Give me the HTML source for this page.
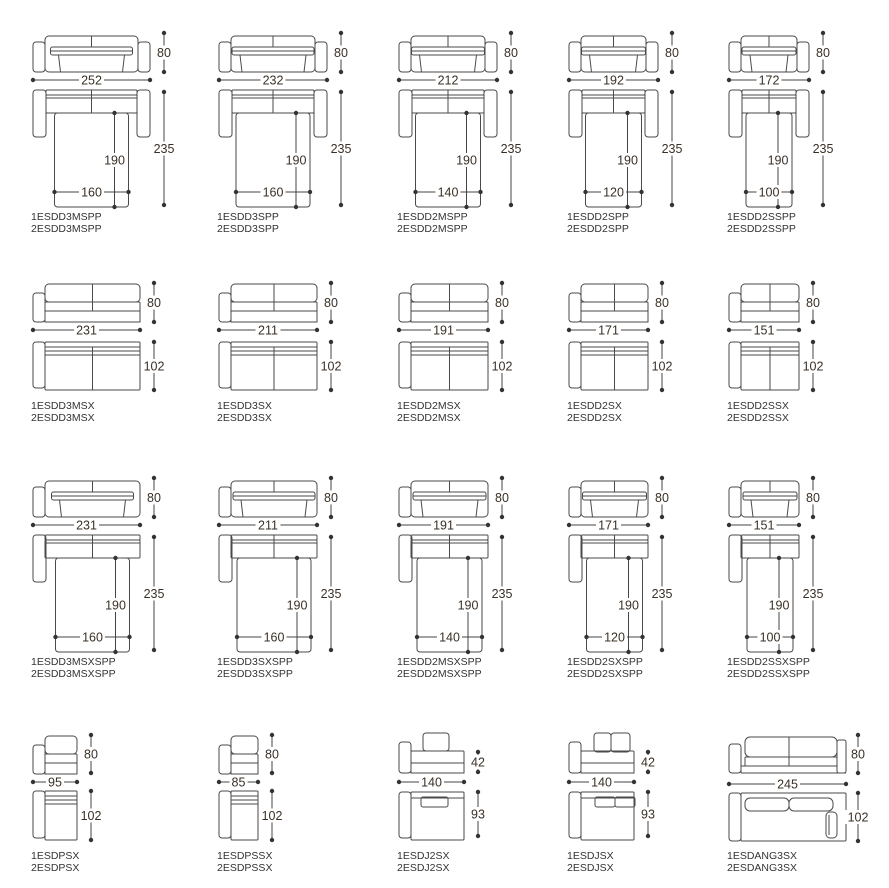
<!DOCTYPE html><html><head><meta charset="utf-8"><style>
body{margin:0;background:#fff}
svg{display:block}
text{font-family:"Liberation Sans",sans-serif}
</style></head><body>
<svg id="s" width="889" height="888" viewBox="0 0 889 888" xmlns="http://www.w3.org/2000/svg"></svg>
<script>
var o='';var S='#4a4a4a';
function R(x,y,w,h,r){o+='<rect x="'+x+'" y="'+y+'" width="'+w+'" height="'+h+'" rx="'+(r||0)+'" fill="none" stroke="'+S+'" stroke-width="1"/>';}
function L(x1,y1,x2,y2,c,sw){o+='<line x1="'+x1+'" y1="'+y1+'" x2="'+x2+'" y2="'+y2+'" stroke="'+(c||S)+'" stroke-width="'+(sw||1)+'"/>';}
function D(x,y){o+='<circle cx="'+x+'" cy="'+y+'" r="2.2" fill="#333"/>';}
function T(x,y,t,sz,anc,c){o+='<text x="'+x+'" y="'+y+'" font-size="'+sz+'" text-anchor="'+(anc||'middle')+'" fill="'+(c||'#333')+'">'+t+'</text>';}
function lab(x,y,t){var w=t.length*7+4;o+='<rect x="'+(x-w/2)+'" y="'+(y-7)+'" width="'+w+'" height="14" fill="#fff"/>';T(x,y+4.5,t,12.5,'middle','#3a3026');}
function dH(x1,x2,y,t){L(x1,y,x2,y,'#444');D(x1,y);D(x2,y);lab((x1+x2)/2,y,t);}
function dV(x,y1,y2,t){L(x,y1,x,y2,'#444');D(x,y1);D(x,y2);lab(x,(y1+y2)/2,t);}
function names(x,y,a,b){T(x-2,y,a,10.5,'start','#333');T(x-2,y+12,b,10.5,'start','#333');}
var X=[33,219,399,569,729];
function bedCell(x0,cm,bed,two,dy,n1,n2){
 var w=Math.round(cm*0.464),bL=x0+12,bR=two?x0+w-12:x0+w,bW=bR-bL,c=(bL+bR)/2,bw=Math.round(bed*0.464);
 var y0=36+dy;
 R(x0,y0+6,12,30,3);if(two)R(x0+w-12,y0+6,12,30,3);
 R(bL,y0,bW,36,4);L(c,y0,c,y0+11);
 R(c-bw/2-4,y0+11,bw+8,8,2);L(c-bw/2-4,y0+15,c+bw/2+4,y0+15);
 L(c-bw/2+4,y0+19,c-bw/2+6,y0+36);L(c+bw/2-4,y0+19,c+bw/2-6,y0+36);
 var ry=90+dy;
 dH(x0,x0+w,80+dy,String(cm));
 dV(x0+w+14,y0-3,y0+36,'80');
 R(x0,ry,13,47,3);if(two)R(x0+w-13,ry,13,47,3);
 var tL=two?x0+13:x0+12,tR=two?x0+w-13:x0+w;
 R(tL,ry,tR-tL,5,1);R(tL,ry+5,tR-tL,18,1);L(c,ry,c,ry+23);L(tL,ry+8,tR,ry+8);
 R(c-bw/2,ry+23,bw,94,3);
 dV(c+bw/2-14,ry+23,ry+117,'190');
 dH(c-bw/2,c+bw/2,ry+102,String(bed));
 dV(x0+w+14,ry+2,ry+115,'235');
 names(x0,220+dy,n1,n2);
}
var r1=[[252,160,'1ESDD3MSPP','2ESDD3MSPP'],[232,160,'1ESDD3SPP','2ESDD3SPP'],[212,140,'1ESDD2MSPP','2ESDD2MSPP'],[192,120,'1ESDD2SPP','2ESDD2SPP'],[172,100,'1ESDD2SSPP','2ESDD2SSPP']];
var r3=[[231,160,'1ESDD3MSXSPP','2ESDD3MSXSPP'],[211,160,'1ESDD3SXSPP','2ESDD3SXSPP'],[191,140,'1ESDD2MSXSPP','2ESDD2MSXSPP'],[171,120,'1ESDD2SXSPP','2ESDD2SXSPP'],[151,100,'1ESDD2SSXSPP','2ESDD2SSXSPP']];
for(var i=0;i<5;i++){bedCell(X[i],r1[i][0],r1[i][1],true,0,r1[i][2],r1[i][3]);bedCell(X[i],r3[i][0],r3[i][1],false,445,r3[i][2],r3[i][3]);}
function sofa(x0,w,fy,ty,th,mid){
 var bL=x0+12,bR=x0+w,c=(bL+bR)/2;
 R(x0,fy+9,12,29,3);
 R(bL,fy,bR-bL,18,4);R(bL,fy+18,bR-bL,9,1);R(bL,fy+27,bR-bL,11,0);
 if(mid){L(c,fy,c,fy+27);}
 R(x0,ty,12,th-2,3);R(bL,ty,bR-bL,th,1);L(bL,ty+5,bR,ty+5);L(bL,ty+9,bR,ty+9);L(bL,ty+13,bR,ty+13);
 if(mid)L(c,ty+5,c,ty+th);
}
var r2=[[231,'1ESDD3MSX','2ESDD3MSX'],[211,'1ESDD3SX','2ESDD3SX'],[191,'1ESDD2MSX','2ESDD2MSX'],[171,'1ESDD2SX','2ESDD2SX'],[151,'1ESDD2SSX','2ESDD2SSX']];
for(var i=0;i<5;i++){var x0=X[i],w=Math.round(r2[i][0]*0.464);
 sofa(x0,w,284,342,48,true);
 dH(x0,x0+w,330,String(r2[i][0]));dV(x0+w+14,283,322,'80');dV(x0+w+14,342,390,'102');
 names(x0,409,r2[i][1],r2[i][2]);}
[[0,95,'1ESDPSX','2ESDPSX'],[1,85,'1ESDPSSX','2ESDPSSX']].forEach(function(a){var x0=X[a[0]],w=Math.round(a[1]*0.464);
 sofa(x0,w,736,791,49,false);
 dH(x0,x0+w,782,String(a[1]));dV(x0+w+14,735,773,'80');dV(x0+w+14,791,840,'102');names(x0,859,a[2],a[3]);});
function chaise(x0,two,n1,n2){var w=65,bL=x0+12,bR=x0+w;
 R(x0,742,12,31,3);
 if(two){R(bL+13,733,17,19,3);R(bL+30,733,19,19,3);}else R(x0+24,733,26,18,3);
 R(bL,751,bR-bL,12,1);R(bL,763,bR-bL,10,0);
 R(x0,792,12,46,3);R(bL,792,bR-bL,48,1);L(bL,798,bR,798);
 if(two){R(bL+14,797,20,10,2);R(bL+34,797,20,10,2);}else R(x0+22,797,27,10,2);
 dH(x0,x0+w,782,'140');dV(x0+w+14,752,772,'42');dV(x0+w+14,792,836,'93');names(x0,859,n1,n2);}
chaise(399,false,'1ESDJ2SX','2ESDJ2SX');chaise(569,true,'1ESDJSX','2ESDJSX');
(function(){var x0=729,w=117,bL=741,bR=837,c=(bL+bR)/2;
 R(x0,744,12,29,3);R(bR,740,9,33,2);
 R(bL+4,737,bR-bL-4,20,5);L(c,737,c,766);R(bL+4,757,bR-bL-4,9,1);L(bL,766,bR,766);L(bL,773,bR+9,773);L(bL,766,bL,773);
 R(x0,793,12,48,3);R(bL,793,w-12,48,1);
 R(bL+4,798,c-bL-4,13,5);R(c,798,bR-c-4,13,5);R(826,812,11,26,4);L(829,815,829,835);
 dH(x0,x0+w,784,'245');dV(858,735,773,'80');dV(858,793,841,'102');names(x0,859,'1ESDANG3SX','2ESDANG3SX');})();
document.getElementById('s').innerHTML=o;
</script>
</body></html>
